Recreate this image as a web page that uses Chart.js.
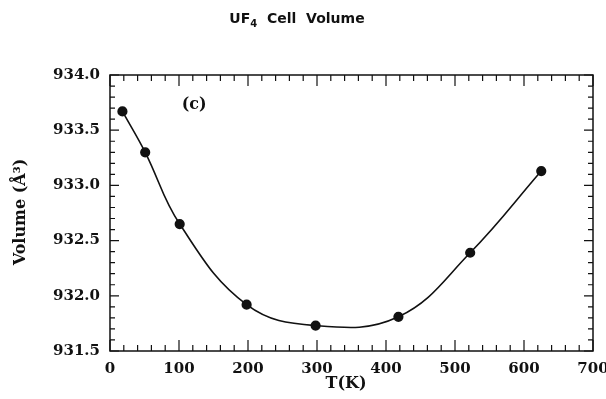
<!DOCTYPE html>
<html>
<head>
<meta charset="utf-8">
<script src="https://cdn.jsdelivr.net/npm/chart.js@4.4.1/dist/chart.umd.min.js"></script>
<style>
  html, body { margin: 0; padding: 0; background: #fff; }
  #wrap { width: 606px; height: 399px; }
</style>
</head>
<body>
<div id="wrap"><canvas id="volumeChart"></canvas></div>
<script>
// measured points
const temps = [18, 51, 101, 198, 298, 418, 522, 625];
const volumes = [933.67, 933.30, 932.65, 931.92, 931.73, 931.81, 932.39, 933.13];

const xTickLabels = [0, 100, 200, 300, 400, 500, 600, 700];
const yTickLabels = [931.5, 932.0, 932.5, 933.0, 933.5, 934.0];

const serif = "'DejaVu Serif', serif";
const ink = '#111';

const frameAndLabels = {
    id: 'frameAndLabels',
    afterDraw(chart) {
        const { ctx, scales: { x, y } } = chart;
        const left = x.getPixelForValue(0), right = x.getPixelForValue(700);
        const top = y.getPixelForValue(934.0), bottom = y.getPixelForValue(931.5);
        ctx.save();
        ctx.strokeStyle = ink;
        ctx.lineWidth = 1.5;
        ctx.strokeRect(left, top, right - left, bottom - top);

        // inward ticks on all four sides
        ctx.lineWidth = 1.2;
        ctx.beginPath();
        for (let t = 0; t <= 700; t += 20) {
            const px = x.getPixelForValue(t);
            const len = t % 100 === 0 ? 11 : 6;
            ctx.moveTo(px, bottom); ctx.lineTo(px, bottom - len);
            ctx.moveTo(px, top); ctx.lineTo(px, top + len);
        }
        for (let i = 0; i <= 25; i++) {
            const py = y.getPixelForValue(931.5 + i * 0.1);
            const len = i % 5 === 0 ? 9 : 5;
            ctx.moveTo(left, py); ctx.lineTo(left + len, py);
            ctx.moveTo(right, py); ctx.lineTo(right - len, py);
        }
        ctx.stroke();

        // title with subscript
        ctx.fillStyle = ink;
        ctx.textBaseline = 'alphabetic';
        ctx.textAlign = 'left';
        const big = "bold 14px 'DejaVu Sans', sans-serif";
        const small = "bold 10px 'DejaVu Sans', sans-serif";
        ctx.font = big;
        const w1 = ctx.measureText('UF').width;
        const w3 = ctx.measureText('  Cell  Volume').width;
        ctx.font = small;
        const w2 = ctx.measureText('4').width;
        let tx = 297 - (w1 + w2 + w3) / 2;
        ctx.font = big;
        ctx.fillText('UF', tx, 23);
        ctx.font = small;
        ctx.fillText('4', tx + w1, 27);
        ctx.font = big;
        ctx.fillText('  Cell  Volume', tx + w1 + w2, 23);

        // panel label
        ctx.font = 'bold 16px ' + serif;
        ctx.textAlign = 'center';
        ctx.textBaseline = 'middle';
        ctx.fillText('(c)', x.getPixelForValue(122), y.getPixelForValue(933.73));

        // axis titles
        ctx.fillText('T(K)', 346, 384);
        ctx.translate(21, 212);
        ctx.rotate(-Math.PI / 2);
        ctx.fillText('Volume (Å³)', 0, 0);
        ctx.restore();
    }
};

const ctx = document.getElementById('volumeChart').getContext('2d');

const volumeChart = new Chart(ctx, {
    type: 'scatter',
    plugins: [frameAndLabels],
    data: {
        datasets: [
            {
                label: 'Cell volume',
                data: temps.map((t, i) => ({ x: t, y: volumes[i] })),
                showLine: true,
                tension: 0.4,
                borderColor: ink,
                borderWidth: 1.6,
                backgroundColor: ink,
                pointRadius: 4.3,
                pointHoverRadius: 4.3
            }
        ]
    },
    options: {
        responsive: true,
        maintainAspectRatio: false,
        animation: false,
        layout: {
            padding: { left: 0, right: 13, top: 75, bottom: 0 }
        },
        plugins: {
            legend: { display: false },
            title: { display: false },
            tooltip: { enabled: false }
        },
        scales: {
            x: {
                type: 'linear',
                min: 0,
                max: 700,
                afterFit(scale) {
                    scale.height = 48;
                    scale.paddingLeft = 0;
                    scale.paddingRight = 0;
                },
                afterBuildTicks(scale) { scale.ticks = xTickLabels.map(v => ({ value: v })); },
                grid: { display: false, drawTicks: false },
                border: { display: false },
                ticks: {
                    padding: 9,
                    color: ink,
                    font: { family: serif, size: 15, weight: 'bold' },
                    maxRotation: 0
                }
            },
            y: {
                type: 'linear',
                min: 931.5,
                max: 934.0,
                afterFit(scale) {
                    scale.width = 110;
                    scale.paddingTop = 0;
                    scale.paddingBottom = 0;
                },
                afterBuildTicks(scale) { scale.ticks = yTickLabels.map(v => ({ value: v })); },
                grid: { display: false, drawTicks: false },
                border: { display: false },
                ticks: {
                    padding: 10,
                    color: ink,
                    font: { family: serif, size: 15, weight: 'bold' },
                    callback: v => v.toFixed(1)
                }
            }
        }
    }
});
</script>
</body>
</html>
